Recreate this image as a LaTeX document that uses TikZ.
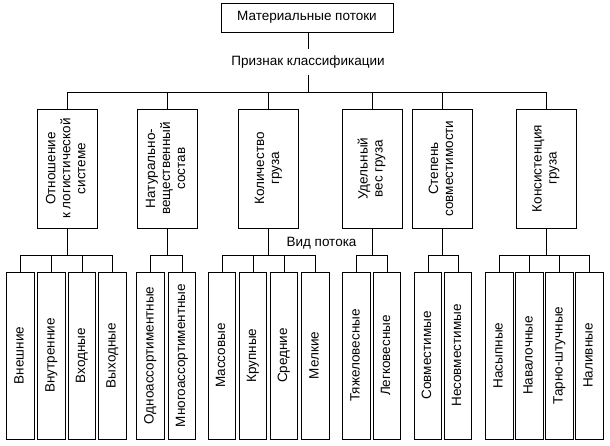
\documentclass[tikz,border=0pt]{standalone}
\usepackage{fontspec}
\setmainfont{Liberation Sans}
\usepackage{graphicx}
\newcommand{\vt}[1]{\rotatebox{90}{\begin{tabular}{@{}c@{}}#1\end{tabular}}}
\begin{document}
\begin{tikzpicture}[x=1pt,y=-1pt, line width=0.9pt,
  every node/.style={font=\fontsize{13.5}{15}\selectfont},
  topbox/.style={draw, minimum width=172pt, minimum height=29pt, inner sep=0pt},
  catbox/.style={draw, minimum width=60pt, minimum height=119pt, inner sep=0pt},
  leafbox/.style={draw, minimum width=27.5pt, minimum height=167pt, inner sep=0pt},
  lbl/.style={inner xsep=0pt, inner ysep=6pt}]
\useasboundingbox (0,0) rectangle (610,445);
\renewcommand{\arraystretch}{1}
% top
\node[topbox] (top) at (307,17.5) {Материальные потоки};
\node[lbl] (pk) at (308,62) {Признак классификации};
\coordinate (bus) at (308,92);
\draw (top.south -| pk.north) -- (pk.north);
\draw (pk.south) -- (bus);
% categories
\node[catbox] (c1) at (67.5,168.5) {\vt{Отношение\\к логистической\\системе}};
\node[catbox] (c2) at (167,168.5) {\vt{Натурально-\\вещественный\\состав}};
\node[catbox] (c3) at (268.5,168.5) {\vt{Количество\\груза}};
\node[catbox] (c4) at (372,168.5) {\vt{Удельный\\вес груза}};
\node[catbox] (c5) at (442.5,168.5) {\vt{Степень\\совместимости}};
\node[catbox] (c6) at (546,168.5) {\vt{Консистенция\\груза}};
\draw (c1.north) -- (c1.north |- bus) -- (c6.north |- bus) -- (c6.north);
\foreach \c in {c2,c3,c4,c5} \draw (\c.north) -- (\c.north |- bus);
% label
\node[inner sep=0pt] (vp) at (321.5,243) {Вид потока};
% leaves group 1
\node[leafbox] (a1) at (20.5,355.5) {\vt{Внешние}};
\node[leafbox] (a2) at (51.5,355.5) {\vt{Внутренние}};
\node[leafbox] (a3) at (82,355.5) {\vt{Входные}};
\node[leafbox] (a4) at (112.5,355.5) {\vt{Выходные}};
% group 2
\node[leafbox] (b1) at (150.5,355.5) {\vt{Одноассортиментные}};
\node[leafbox] (b2) at (182,355.5) {\vt{Многоассортиментные}};
% group 3
\node[leafbox] (d1) at (222,355.5) {\vt{Массовые}};
\node[leafbox] (d2) at (253,355.5) {\vt{Крупные}};
\node[leafbox] (d3) at (284,355.5) {\vt{Средние}};
\node[leafbox] (d4) at (315.5,355.5) {\vt{Мелкие}};
% group 4
\node[leafbox] (e1) at (356.5,355.5) {\vt{Тяжеловесные}};
\node[leafbox] (e2) at (387,355.5) {\vt{Легковесные}};
% group 5
\node[leafbox] (f1) at (428,355.5) {\vt{Совместимые}};
\node[leafbox] (f2) at (458,355.5) {\vt{Несовместимые}};
% group 6
\node[leafbox] (g1) at (499.5,355.5) {\vt{Насыпные}};
\node[leafbox] (g2) at (529.5,355.5) {\vt{Навалочные}};
\node[leafbox] (g3) at (559.5,355.5) {\vt{Тарно-штучные}};
\node[leafbox] (g4) at (589.5,355.5) {\vt{Наливные}};
% connectors level 2
\coordinate (bus2) at (0,255);
\foreach \c/\l/\r in {c1/a1/a4, c2/b1/b2, c3/d1/d4, c4/e1/e2, c5/f1/f2, c6/g1/g4} {
  \draw (\c.south) -- (\c.south |- bus2);
  \draw (\l.north) -- (\l.north |- bus2) -- (\r.north |- bus2) -- (\r.north);
}
\foreach \m in {a2,a3,d2,d3,g2,g3} \draw (\m.north) -- (\m.north |- bus2);
\end{tikzpicture}
\end{document}
